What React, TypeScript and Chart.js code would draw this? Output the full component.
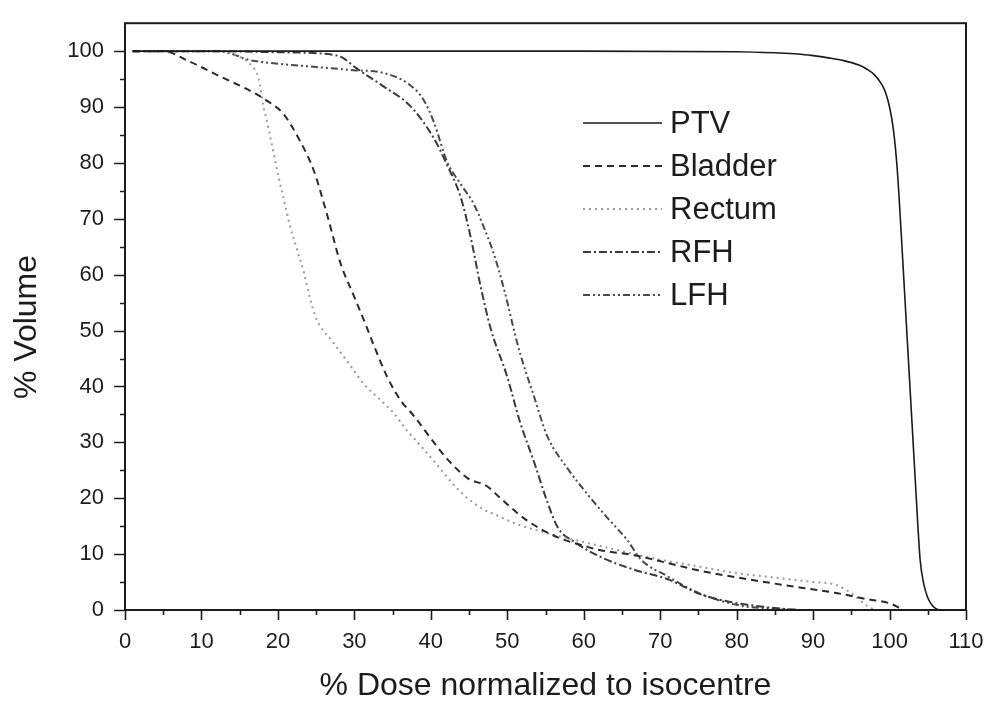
import React, { useEffect, useRef } from 'react';
import { Chart, registerables } from 'chart.js';

Chart.register(...registerables);

// ---- data ----
const seriesNames = ['PTV', 'Bladder', 'Rectum', 'RFH', 'LFH'];

const ptvDose = [1, 20, 40, 60, 80, 85, 88, 90, 92, 94, 96, 97, 98, 99, 99.5, 100, 100.5, 101, 101.5, 102, 102.5, 103, 103.5, 104, 104.5, 105, 105.5, 106, 106.5];
const ptvVolume = [100, 100, 100, 100, 99.9, 99.7, 99.5, 99.2, 98.8, 98.3, 97.5, 96.8, 95.8, 94, 92.5, 90, 86, 79, 68, 56, 44, 32, 20, 9, 4.5, 2.2, 1, 0.3, 0];

const bladderDose = [1, 5, 8.5, 12.4, 16.8, 18.6, 20.7, 22.9, 24.7, 26.4, 28.2, 30, 31.5, 32.5, 34.3, 36, 37.8, 40.4, 42.1, 44.8, 47.4, 49.1, 52.6, 56.6, 60.5, 62.2, 66.6, 71, 75.3, 81.9, 88.4, 92.8, 97.2, 100, 101.1, 101.6];
const bladderVolume = [100, 100, 98.1, 95.5, 92.6, 91.1, 88.8, 83.9, 78.6, 70.9, 62, 56, 51, 47.5, 41.7, 37.6, 34.7, 30, 27.1, 23.6, 22.1, 20, 16, 13, 11.3, 10.7, 9.8, 8.4, 7, 5.4, 4, 3.1, 1.9, 1.2, 0.5, 0];

const rectumDose = [1, 12, 15, 16.5, 17.5, 18.1, 18.8, 19.4, 20.1, 20.7, 21.6, 22.5, 23.4, 24.2, 25, 27.1, 29.5, 31.2, 33.4, 35.1, 36.9, 38.6, 40.8, 42.6, 44.8, 46.9, 48.2, 51, 54, 58, 62, 66, 70, 75, 80, 85, 90, 93, 95, 97, 98];
const rectumVolume = [100, 100, 99, 97.5, 95, 90.2, 86, 82, 77.4, 73.9, 68.6, 64.5, 60.4, 55.8, 52.2, 48.1, 43.7, 40.5, 37.6, 35.3, 32.1, 29.5, 26, 23, 20, 18, 17.2, 15.5, 14.2, 12.8, 11.5, 10.2, 9, 7.8, 6.6, 5.8, 5, 4.5, 3, 0.8, 0];

const rfhDose = [1, 10, 20, 27, 28.5, 30, 33.8, 37.3, 40.4, 42.1, 43.9, 45.2, 46.5, 47.8, 50, 51.7, 53.5, 55.2, 56.6, 59, 62.2, 66.6, 71, 75.3, 79.7, 84, 88];
const rfhVolume = [100, 100, 99.8, 99.4, 98.8, 97.2, 93.7, 90.2, 84.4, 79.7, 73.9, 66.8, 58, 50.5, 41.7, 33.5, 26.5, 19.5, 14.8, 12, 9.5, 7.2, 5.5, 2.8, 1.3, 0.5, 0];

const lfhDose = [1, 12, 14, 16, 19, 24.7, 29.9, 33.8, 36.9, 39, 40.4, 42.1, 43.9, 45.6, 46.9, 48.2, 49.1, 50, 50.8, 51.7, 53.5, 55.2, 57.9, 60.5, 63.1, 65.7, 67.5, 71, 74, 76, 80.6, 85, 88];
const lfhVolume = [100, 100, 99.5, 98.5, 97.9, 97.2, 96.6, 96.1, 94.3, 91.4, 87.3, 80.3, 76.2, 72.7, 68.6, 63.9, 59.8, 55.1, 50.5, 45.8, 38.2, 31.2, 25.3, 20.7, 16.5, 12.5, 9, 6, 3.7, 2.5, 0.75, 0.2, 0];

const xTickValues = [0, 10, 20, 30, 40, 50, 60, 70, 80, 90, 100, 110];
const yTickValues = [0, 10, 20, 30, 40, 50, 60, 70, 80, 90, 100];
const xMinorValues = [5, 15, 25, 35, 45, 55, 65, 75, 85, 95, 105];
const yMinorValues = [5, 15, 25, 35, 45, 55, 65, 75, 85, 95];

const xTitle = '% Dose normalized to isocentre';
const yTitle = '% Volume';

const FONT = '"Liberation Sans", Arial, Helvetica, sans-serif';
const INK = '#1c1c1c';

const styles = [
  { color: '#1a1a1a', width: 1.6, dash: [] as number[] },
  { color: '#2a2a2a', width: 2, dash: [7, 5] },
  { color: '#9a9a9a', width: 2, dash: [2, 4] },
  { color: '#3a3a3a', width: 2, dash: [8, 3, 2, 3] },
  { color: '#4a4a4a', width: 2, dash: [7, 3, 2, 3, 2, 3] },
];

const pairs = (xs: number[], ys: number[]) => xs.map((x, i) => ({ x, y: ys[i] }));
const seriesData = [
  pairs(ptvDose, ptvVolume),
  pairs(bladderDose, bladderVolume),
  pairs(rectumDose, rectumVolume),
  pairs(rfhDose, rfhVolume),
  pairs(lfhDose, lfhVolume),
];

const framePlugin = {
  id: 'frameTicksLegend',
  afterDraw(chart: any) {
    const { ctx, chartArea: a, scales } = chart;
    const xs = scales.x;
    const ys = scales.y;
    ctx.save();
    // frame
    ctx.strokeStyle = INK;
    ctx.lineWidth = 2;
    ctx.setLineDash([]);
    ctx.strokeRect(a.left, a.top, a.right - a.left, a.bottom - a.top);
    // ticks
    ctx.lineWidth = 1.6;
    ctx.beginPath();
    xTickValues.forEach((v) => {
      const p = Math.round(xs.getPixelForValue(v)) + 0.5;
      ctx.moveTo(p, a.bottom);
      ctx.lineTo(p, a.bottom + 10);
    });
    xMinorValues.forEach((v) => {
      const p = Math.round(xs.getPixelForValue(v)) + 0.5;
      ctx.moveTo(p, a.bottom);
      ctx.lineTo(p, a.bottom + 5);
    });
    yTickValues.forEach((v) => {
      const p = Math.round(ys.getPixelForValue(v)) + 0.5;
      ctx.moveTo(a.left, p);
      ctx.lineTo(a.left - 11, p);
    });
    yMinorValues.forEach((v) => {
      const p = Math.round(ys.getPixelForValue(v)) + 0.5;
      ctx.moveTo(a.left, p);
      ctx.lineTo(a.left - 5, p);
    });
    ctx.stroke();

    // y-axis title (slightly below the plot centre, as in the reference)
    ctx.save();
    ctx.translate(27, 327);
    ctx.rotate(-Math.PI / 2);
    ctx.font = `32px ${FONT}`;
    ctx.fillStyle = INK;
    ctx.textAlign = 'center';
    ctx.textBaseline = 'middle';
    ctx.fillText(yTitle, 0, 0);
    ctx.restore();

    // legend
    const lx0 = 583;
    const lx1 = 662;
    const ty0 = 123;
    const step = 43;
    ctx.font = `31px ${FONT}`;
    ctx.textBaseline = 'middle';
    ctx.textAlign = 'left';
    chart.data.datasets.forEach((ds: any, i: number) => {
      const y = ty0 + i * step;
      ctx.strokeStyle = ds.borderColor;
      ctx.lineWidth = ds.borderWidth;
      ctx.setLineDash(ds.borderDash || []);
      ctx.beginPath();
      ctx.moveTo(lx0, y);
      ctx.lineTo(lx1, y);
      ctx.stroke();
      ctx.setLineDash([]);
      ctx.fillStyle = INK;
      ctx.fillText(ds.label, 670, y + 1);
    });
    ctx.restore();
  },
};

export default function App() {
  const ref = useRef<HTMLCanvasElement>(null);

  useEffect(() => {
    document.body.style.margin = '0';
    const canvas = ref.current;
    if (!canvas) return;
    Chart.defaults.font.family = FONT;
    const chart = new Chart(canvas, {
      type: 'line',
      data: {
        datasets: seriesNames.map((name, i) => ({
          label: name,
          data: seriesData[i],
          borderColor: styles[i].color,
          borderWidth: styles[i].width,
          borderDash: styles[i].dash,
          pointRadius: 0,
          fill: false,
          cubicInterpolationMode: 'monotone' as const,
        })),
      },
      options: {
        responsive: false,
        animation: false,
        layout: { padding: { top: 13, right: 29, left: 0, bottom: 0 } },
        plugins: {
          legend: { display: false },
          tooltip: { enabled: false },
        },
        scales: {
          x: {
            type: 'linear',
            min: 0,
            max: 110,
            afterBuildTicks: (s: any) => {
              s.ticks = xTickValues.map((v) => ({ value: v }));
            },
            afterFit: (s: any) => {
              s.height = 101;
            },
            ticks: {
              font: { size: 22, family: FONT },
              color: INK,
              padding: 9,
              maxRotation: 0,
              autoSkip: false,
            },
            grid: {
              drawOnChartArea: false,
              drawTicks: true,
              tickLength: 10,
              tickColor: 'rgba(0,0,0,0)',
            },
            border: { display: false },
            title: {
              display: true,
              text: xTitle,
              color: INK,
              font: { size: 32, family: FONT },
              padding: { top: 0, bottom: 6 },
            },
          },
          y: {
            type: 'linear',
            min: 0,
            max: 105,
            afterBuildTicks: (s: any) => {
              s.ticks = yTickValues.map((v) => ({ value: v }));
            },
            afterFit: (s: any) => {
              s.width = 125;
            },
            ticks: {
              font: { size: 22, family: FONT },
              color: INK,
              padding: 10,
              autoSkip: false,
            },
            grid: {
              drawOnChartArea: false,
              drawTicks: true,
              tickLength: 11,
              tickColor: 'rgba(0,0,0,0)',
            },
            border: { display: false },
            title: { display: false },
          },
        },
      },
      plugins: [framePlugin],
    });
    return () => chart.destroy();
  }, []);

  return (
    <div style={{ width: 995, height: 711, background: '#fff' }}>
      <canvas ref={ref} width={995} height={711} style={{ display: 'block' }} />
    </div>
  );
}
